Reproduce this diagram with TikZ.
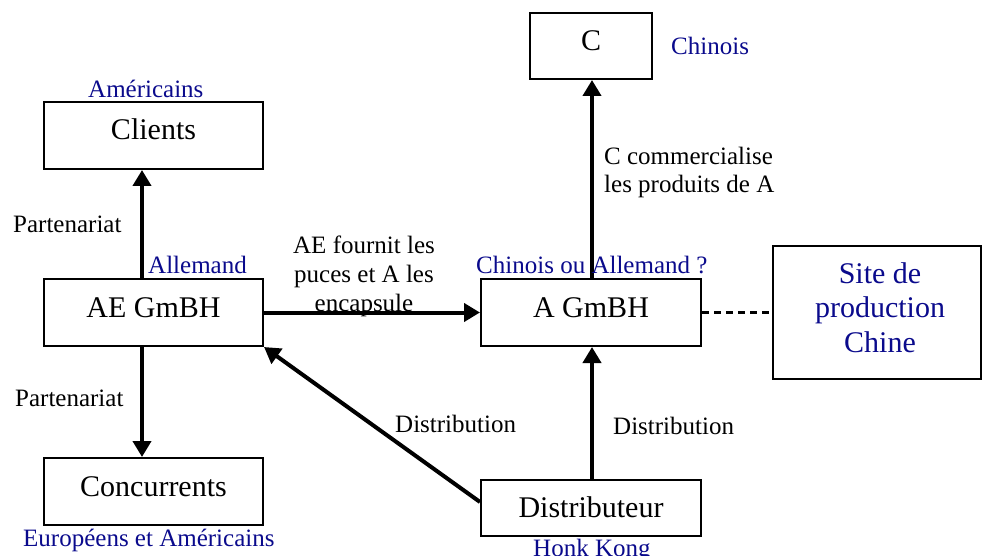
\documentclass[tikz,border=0pt]{standalone}
\usepackage{fontspec}
\setmainfont{Liberation Serif}
\usetikzlibrary{arrows.meta}
\definecolor{navy}{RGB}{10,10,140}
\begin{document}
\begin{tikzpicture}[x=1pt,y=-1pt,
  box/.style={draw=black,line width=2pt,inner sep=0pt,font=\fontsize{30}{34}\selectfont,text height=21pt,text depth=12pt},
  lbl/.style={inner sep=0pt,font=\fontsize{25}{29}\selectfont},
  blue/.style={lbl,text=navy},
  arr/.style={line width=4pt,-{Triangle[length=16pt,width=18pt]}},
  dsh/.style={line width=2.5pt,dash pattern=on 7pt off 5pt}]
\useasboundingbox (0,0) rectangle (982,556);
% boxes
\node[box,minimum width=122pt,minimum height=66pt] (c) at (591,46) {C};
\node[box,minimum width=219pt,minimum height=67pt] (clients) at (153.5,135.5) {Clients};
\node[box,minimum width=219pt,minimum height=67pt] (ae) at (153.5,312.5) {AE GmBH};
\node[box,minimum width=220pt,minimum height=67pt] (a) at (591,312.5) {A GmBH};
\node[box,minimum width=219pt,minimum height=67pt] (conc) at (153.5,491.5) {Concurrents};
\node[box,minimum width=220pt,minimum height=56pt,text height=24pt,text depth=6pt] (dist) at (591,508) {Distributeur};
\node[box,minimum width=208pt,minimum height=133pt] (site) at (877,312.5) {};
\node[inner sep=0pt,text=navy,align=center,font=\fontsize{30}{34.5}\selectfont] (sitetxt) at ([xshift=3pt,yshift=5pt]site.center) {Site de\\production\\Chine};
% connectors
\draw[arr] ([xshift=-11.5pt]ae.north) -- ([xshift=-11.5pt]clients.south);
\draw[arr] ([xshift=-11.5pt]ae.south) -- ([xshift=-11.5pt]conc.north);
\draw[arr] (ae.east) -- (a.west);
\draw[arr] ([xshift=1pt]a.north) -- ([xshift=1pt]c.south);
\draw[arr] ([xshift=1pt]dist.north) -- ([xshift=1pt]a.south);
\draw[arr] ([yshift=6pt]dist.west) -- (ae.south east);
\draw[dsh] (a.east) -- (site.west);
% labels
\node[blue,anchor=base west] (lchin) at (671,55) {Chinois};
\node[blue,anchor=base west] (lamer) at (88,98) {Américains};
\node[lbl,anchor=base west] (lpart1) at (13,233) {Partenariat};
\node[blue,anchor=base west] (lall) at (148,273) {Allemand};
\node[lbl,anchor=base] (lfourn) at (364,253) {AE fournit les};
\node[lbl,anchor=base] (lfourn2) at (364,282) {puces et A les};
\node[lbl,anchor=base] (lfourn3) at (364,311) {encapsule};
\node[blue,anchor=base west] (lchou) at (476,273) {Chinois ou Allemand ?};
\node[lbl,anchor=base west] (lcom1) at (604,165) {C commercialise};
\node[lbl,anchor=base west] (lcom2) at (604,193) {les produits de A};
\node[lbl,anchor=base west] (lpart2) at (15,406) {Partenariat};
\node[lbl,anchor=base west] (ldist1) at (395,432) {Distribution};
\node[lbl,anchor=base west] (ldist2) at (613,434) {Distribution};
\node[blue,anchor=base west] (leur) at (23,546) {Européens et Américains};
\node[blue,anchor=base west] (lhk) at (533,556) {Honk Kong};
\end{tikzpicture}
\end{document}
